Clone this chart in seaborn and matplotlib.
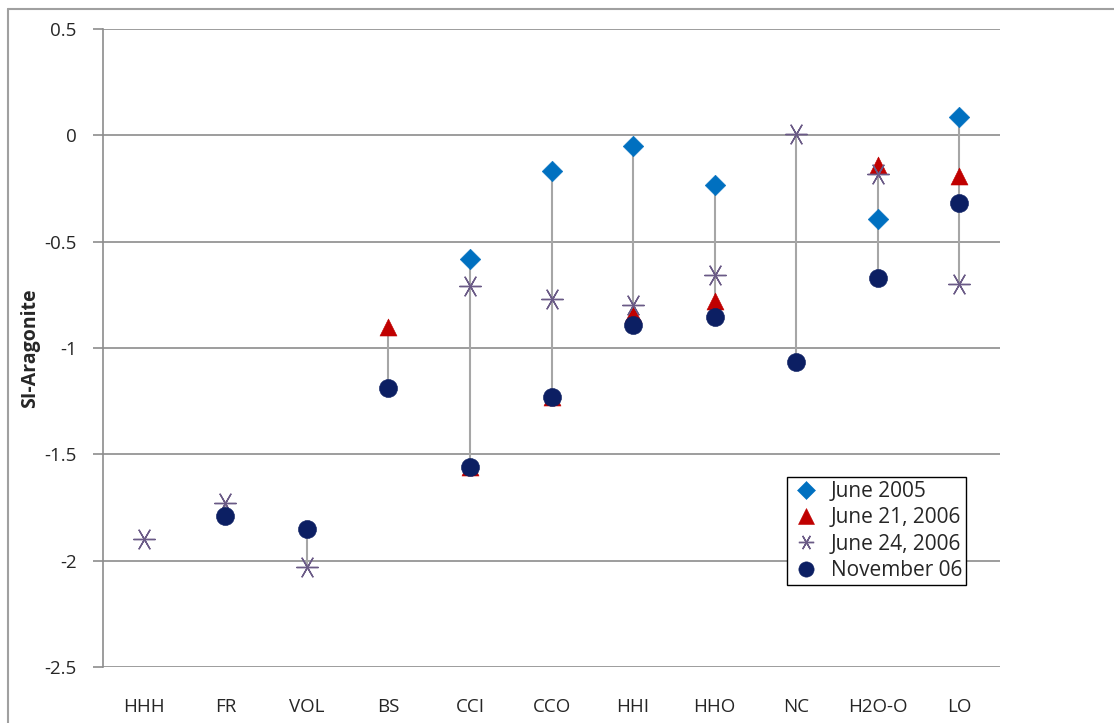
import numpy as np
import pandas as pd
import matplotlib
matplotlib.use("Agg")
import matplotlib.pyplot as plt
import seaborn as sns

sites = ["HHH", "FR", "VOL", "BS", "CCI", "CCO", "HHI", "HHO", "NC", "H2O-O", "LO"]
june_2005 = [np.nan, np.nan, np.nan, np.nan, -0.58, -0.17, -0.05, -0.235, np.nan, -0.395, 0.085]
june_21_2006 = [np.nan, np.nan, np.nan, -0.90, -1.56, -1.23, -0.84, -0.78, np.nan, -0.14, -0.19]
june_24_2006 = [-1.90, -1.73, -2.03, np.nan, -0.71, -0.77, -0.80, -0.655, 0.005, -0.18, -0.70]
november_06 = [np.nan, -1.79, -1.85, -1.19, -1.56, -1.23, -0.89, -0.855, -1.065, -0.67, -0.32]

series_names = ["June 2005", "June 21, 2006", "June 24, 2006", "November 06"]
series_values = [june_2005, june_21_2006, june_24_2006, november_06]

df = pd.concat([
    pd.DataFrame({"Site": sites, "SI": vals, "Date": name, "pos": range(len(sites))})
    for name, vals in zip(series_names, series_values)
], ignore_index=True)

palette = {"June 2005": "#0070C0", "June 21, 2006": "#C00000",
           "June 24, 2006": "#6A5A86", "November 06": "#0C1F63"}
markers = {"June 2005": "D", "June 21, 2006": "^",
           "June 24, 2006": (6, 2, 30), "November 06": "o"}
sizes = {"June 2005": 110, "June 21, 2006": 150, "June 24, 2006": 240, "November 06": 170}
edge_w = {"June 2005": 0.4, "June 21, 2006": 0.4, "June 24, 2006": 1.0, "November 06": 0.4}

sns.set_style("white")
plt.rcParams["font.family"] = ["Open Sans", "DejaVu Sans"]

fig = plt.figure(figsize=(11.14, 7.23), dpi=100)
ax = fig.add_axes([103 / 1114, 1 - 667 / 723, 897 / 1114, 638 / 723])

# chart-area border (left and top, like the Excel frame)
fig.add_artist(plt.Line2D([8 / 1114, 8 / 1114], [0, 1 - 9 / 723], transform=fig.transFigure,
                          color="#A0A0A0", lw=1.5))
fig.add_artist(plt.Line2D([8 / 1114, 1], [1 - 9 / 723, 1 - 9 / 723], transform=fig.transFigure,
                          color="#A0A0A0", lw=1.5))

# high-low lines
rng = df.groupby("pos")["SI"].agg(["min", "max"]).dropna()
ax.vlines(rng.index, rng["min"], rng["max"], color="#A6A6A6", lw=1.5, zorder=2)

for name in series_names:
    sub = df[df["Date"] == name]
    sns.scatterplot(data=sub, x="pos", y="SI", ax=ax, color=palette[name],
                    marker=markers[name], s=sizes[name], linewidth=edge_w[name],
                    edgecolor=palette[name], zorder=3, legend=False)

ax.set_xlim(-0.5, len(sites) - 0.5)
ax.set_ylim(-2.5, 0.5)
ax.set_yticks(np.arange(-2.5, 0.51, 0.5))
ax.set_yticklabels([f"{v:g}" for v in np.arange(-2.5, 0.51, 0.5)])
ax.set_xticks(range(len(sites)))
ax.set_xticklabels(sites)
ax.yaxis.grid(True, color="#8C8C8C", lw=1.2)
ax.set_axisbelow(True)
for side in ["top", "right", "bottom"]:
    ax.spines[side].set_visible(False)
ax.spines["left"].set_color("#8C8C8C")
ax.spines["left"].set_linewidth(1.2)
ax.tick_params(axis="y", direction="out", length=7, color="#8C8C8C", width=1.2,
               labelsize=13.5, pad=12, left=True)
ax.tick_params(axis="x", length=0, labelsize=13.5, pad=22)
ax.set_xlabel("")
ax.set_ylabel("SI-Aragonite", fontsize=14, fontweight="bold")
ax.yaxis.set_label_coords(-0.070, 0.5)

handles = [plt.Line2D([], [], ls="none", marker=markers[n], color=palette[n],
                      markeredgecolor=palette[n], markersize=11 if n != "June 2005" else 9,
                      markeredgewidth=edge_w[n])
           for n in series_names]
leg = ax.legend(handles, series_names, loc="upper left",
                bbox_to_anchor=((787 - 103) / 897, (667 - 477) / 638), borderaxespad=0,
                fontsize=15, frameon=True, fancybox=False, edgecolor="black", framealpha=1,
                handletextpad=0.5, borderpad=0.2, labelspacing=0.25, handlelength=1.4)
leg.get_frame().set_linewidth(1.0)

fig.savefig("out.png", dpi=100)
